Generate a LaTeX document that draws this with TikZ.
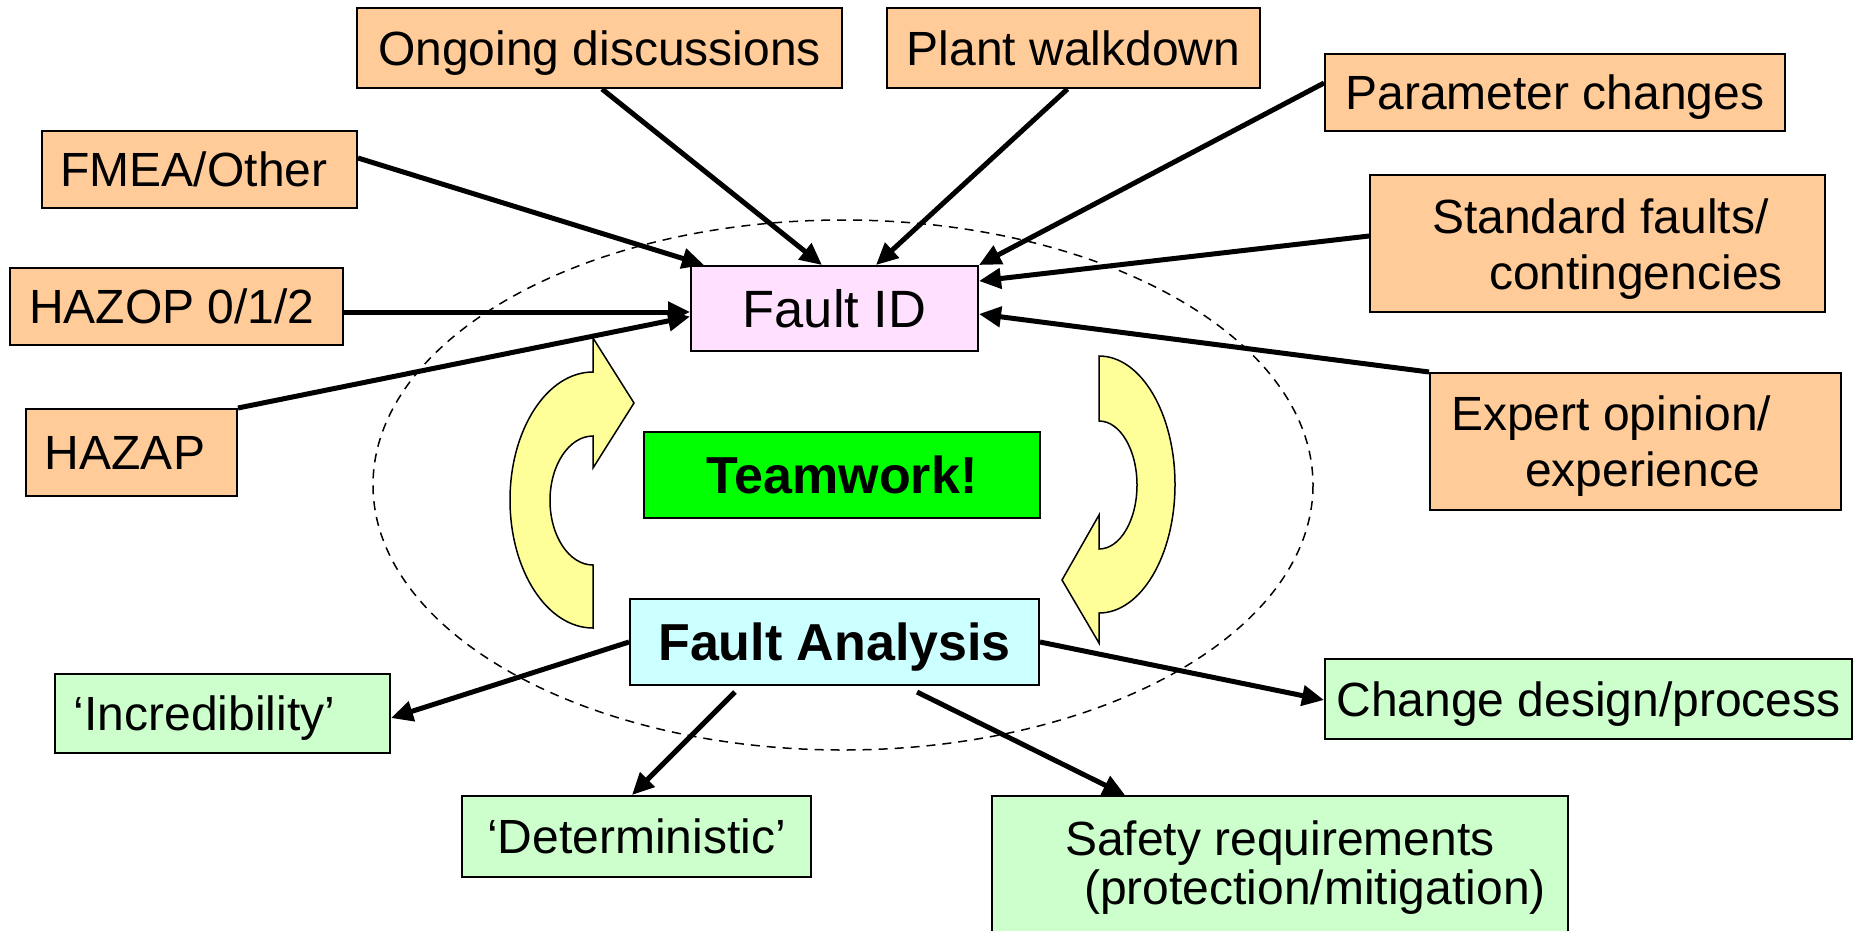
\documentclass[tikz,border=0pt]{standalone}
\usepackage{fontspec}
\setmainfont{Liberation Sans}
\usetikzlibrary{arrows.meta,calc}
\definecolor{srcfill}{HTML}{FFCC99}
\definecolor{idfill}{HTML}{FFE1FF}
\definecolor{anfill}{HTML}{CCFFFF}
\definecolor{teamfill}{HTML}{00FF00}
\definecolor{outfill}{HTML}{CCFFCC}
\definecolor{loopfill}{HTML}{FFFF99}

\begin{document}
\begin{tikzpicture}[x=1pt,y=-1pt,
  box/.style={draw=black, line width=2pt, inner sep=0pt, text height=34.4pt, text depth=0pt,
              font=\fontsize{48}{55}\selectfont},
  srcbox/.style={box, fill=srcfill},
  outbox/.style={box, fill=outfill},
  nudge left/.style={execute at end node={\hspace*{#1}}},
  bigbox/.style={box, text height=37.5pt, font=\fontsize{52.5}{60}\selectfont},
  txtline/.style={inner sep=0pt, anchor=base west, font=\fontsize{48}{55}\selectfont},
  link/.style={line width=5pt, -{Triangle[length=22pt,width=20pt]}},
  loop arrow/.style={fill=loopfill, draw=black, line width=1.5pt, line join=miter},
  scope ring/.style={draw=black, line width=1.5pt, dash pattern=on 9pt off 7pt},
]
\useasboundingbox (0,0) rectangle (1868,930);

% dashed ring around the central loop
\draw[scope ring] (843,485) ellipse [x radius=470, y radius=265];

% circular loop arrows between identification and analysis
\draw[loop arrow] (593,628) arc[start angle=90, end angle=270, x radius=83, y radius=128]
  -- (593,338) -- (634,403) -- (593,468) -- (593,436)
  arc[start angle=270, end angle=90, x radius=43, y radius=64.5] -- cycle;
\draw[loop arrow] (1099,356) arc[start angle=-90, end angle=90, x radius=76, y radius=128.5]
  -- (1099,643) -- (1062,580) -- (1099,515) -- (1099,549)
  arc[start angle=90, end angle=-90, x radius=38, y radius=64] -- cycle;

% central nodes
\node[bigbox, fill=idfill, minimum width=287pt, minimum height=85pt] (fid) at (834.5,308.5) {Fault ID};
\node[bigbox, fill=teamfill, minimum width=396pt, minimum height=86pt, font=\fontsize{52}{60}\selectfont\bfseries] (team) at (842,475) {Teamwork!};
\node[bigbox, fill=anfill, minimum width=409pt, minimum height=86pt, font=\fontsize{52}{60}\selectfont\bfseries] (fa) at (834.5,642) {Fault Analysis};

% sources of faults
\node[srcbox, minimum width=485pt, minimum height=80pt] (ong) at (599.5,48) {Ongoing discussions};
\node[srcbox, minimum width=373pt, minimum height=80pt] (plant) at (1073.5,48) {Plant walkdown};
\node[srcbox, minimum width=460pt, minimum height=77pt] (param) at (1555,92.5) {Parameter changes};
\node[srcbox, minimum width=315pt, minimum height=77pt, nudge left=11pt] (fmea) at (199.5,169.5) {FMEA/Other};
\node[srcbox, minimum width=333pt, minimum height=77pt, nudge left=9pt] (hazop) at (176.5,306.5) {HAZOP 0/1/2};
\node[srcbox, minimum width=211pt, minimum height=87pt, nudge left=13pt] (hazap) at (131.5,452.5) {HAZAP};
\node[srcbox, minimum width=455pt, minimum height=137pt] (std) at (1597.5,243.5) {};
\node[txtline] (std1) at (1432,233) {Standard faults/};
\node[txtline] (std2) at (1489,289) {contingencies};
\node[srcbox, minimum width=411pt, minimum height=137pt] (expert) at (1635.5,441.5) {};
\node[txtline] (exp1) at (1451,430) {Expert opinion/};
\node[txtline] (exp2) at (1525,486) {experience};

% outcomes of the analysis
\node[outbox, minimum width=335pt, minimum height=79pt, nudge left=36pt] (incred) at (222.5,713.5) {‘Incredibility’};
\node[outbox, minimum width=349pt, minimum height=81pt] (determ) at (636.5,836.5) {‘Deterministic’};
\node[outbox, minimum width=527pt, minimum height=80pt] (change) at (1588.5,699) {Change design/process};
\node[outbox, minimum width=576pt, minimum height=150pt] (safety) at (1280,871) {};
\node[txtline] (saf1) at (1065,855) {Safety requirements};
\node[txtline] (saf2) at (1084,904) {(protection/mitigation)};

% inputs to fault identification
\draw[link] ($(fmea.east)+(0,-11.5)$) -- ($(fid.north west)+(14,0)$);
\draw[link] ($(ong.south)+(2.5,0)$) -- ($(fid.north)+(-12.5,0)$);
\draw[link] ($(plant.south)+(-6,0)$) -- ($(fid.north)+(41.5,0)$);
\draw[link] ($(param.west)+(0,-9.5)$) -- (fid.north east);
\draw[link] ($(std.west)+(0,-7.5)$) -- ($(fid.north east)+(0,16)$);
\draw[link] (expert.north west) -- ($(fid.east)+(0,5.5)$);
\draw[link] ($(hazop.east)+(0,5.5)$) -- ($(fid.west)+(0,3.5)$);
\draw[link] (hazap.north east) -- ($(fid.west)+(0,8)$);

% outputs of fault analysis
\draw[link] (fa.west) -- ($(incred.east)+(0,4.5)$);
\draw[link] ($(fa.south)+(-99.5,6)$) -- ($(determ.north)+(-4.5,0)$);
\draw[link] ($(fa.south)+(82.5,6)$) -- ($(safety.north west)+(134,0)$);
\draw[link] (fa.east) -- ($(change.west)+(0,1)$);
\end{tikzpicture}
\end{document}
